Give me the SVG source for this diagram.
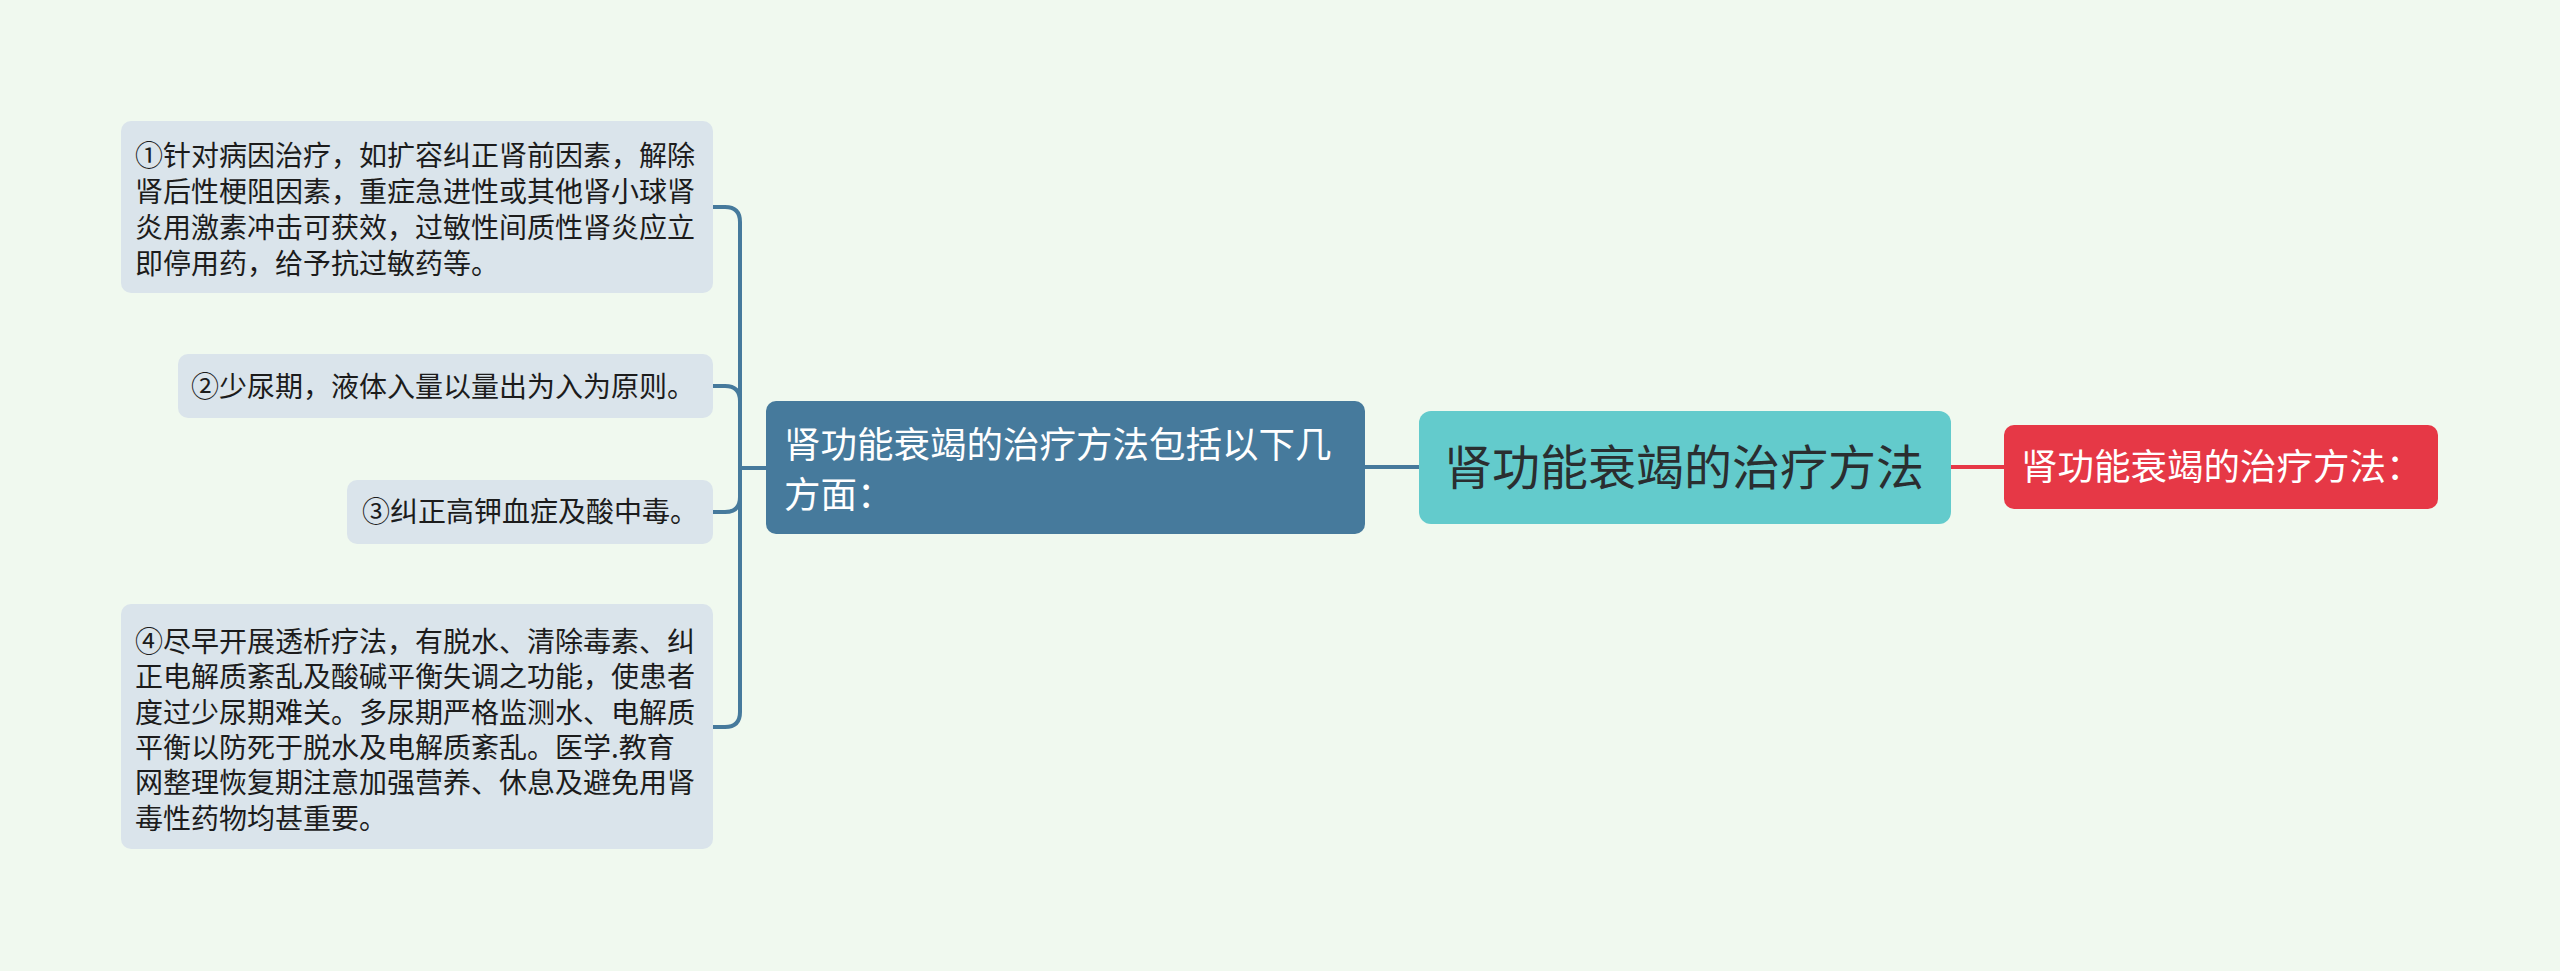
<svg xmlns="http://www.w3.org/2000/svg" width="2560" height="971" viewBox="0 0 2560 971">
<style>
.bg{fill:#f0f9ef}
.leaf{fill:#dae4eb}
.lt{font-family:"Noto Sans CJK SC","Noto Sans",sans-serif;font-size:28px;fill:#1c1c1c}
.main{fill:#467a9c}
.mt{font-family:"Noto Sans CJK SC","Noto Sans",sans-serif;font-size:36.5px;fill:#ffffff}
.center{fill:#63cbcc}
.ct{font-family:"Noto Sans CJK SC","Noto Sans",sans-serif;font-size:48px;fill:#2a2e30}
.red{fill:#e63846}
.rt{font-family:"Noto Sans CJK SC","Noto Sans",sans-serif;font-size:36.5px;fill:#ffffff}
.cb{fill:none;stroke:#467a9c;stroke-width:4}
.cr{fill:none;stroke:#e63846;stroke-width:4}
</style>
<rect class="bg" x="0" y="0" width="2560" height="971"/>
<g id="connectors">
<path class="cb" d="M740,467 V222 Q740,207 725,207 H713"/>
<path class="cb" d="M740,467 V401 Q740,386 725,386 H713"/>
<path class="cb" d="M740,467 V497 Q740,512 725,512 H713"/>
<path class="cb" d="M740,467 V712 Q740,727 725,727 H713"/>
<path class="cb" d="M740,468 H767"/>
<path class="cb" d="M1365,467 H1420"/>
<path class="cr" d="M1951,467 H2004"/>
</g>
<g id="center">
<rect class="center" x="1419" y="411" width="532" height="113" rx="12"/>
<text class="ct" x="1444" y="485">肾功能衰竭的治疗方法</text>
</g>
<g id="main">
<rect class="main" x="766" y="401" width="599" height="133" rx="10"/>
<text class="mt" x="784" y="458">肾功能衰竭的治疗方法包括以下几</text>
<text class="mt" x="784" y="508">方面：</text>
</g>
<g id="red">
<rect class="red" x="2004" y="425" width="434" height="84" rx="10"/>
<text class="rt" x="2021" y="480">肾功能衰竭的治疗方法：</text>
</g>
<g id="leaf1">
<rect class="leaf" x="121" y="121" width="592" height="172" rx="10"/>
<text class="lt" x="135" y="165.5">①针对病因治疗，如扩容纠正肾前因素，解除</text>
<text class="lt" x="135" y="201.5">肾后性梗阻因素，重症急进性或其他肾小球肾</text>
<text class="lt" x="135" y="237.5">炎用激素冲击可获效，过敏性间质性肾炎应立</text>
<text class="lt" x="135" y="273.5">即停用药，给予抗过敏药等。</text>
</g>
<g id="leaf2">
<rect class="leaf" x="178" y="354" width="535" height="64" rx="10"/>
<text class="lt" x="191" y="397">②少尿期，液体入量以量出为入为原则。</text>
</g>
<g id="leaf3">
<rect class="leaf" x="347" y="480" width="366" height="64" rx="10"/>
<text class="lt" x="362" y="522">③纠正高钾血症及酸中毒。</text>
</g>
<g id="leaf4">
<rect class="leaf" x="121" y="604" width="592" height="245" rx="10"/>
<text class="lt" x="135" y="652">④尽早开展透析疗法，有脱水、清除毒素、纠</text>
<text class="lt" x="135" y="687.3">正电解质紊乱及酸碱平衡失调之功能，使患者</text>
<text class="lt" x="135" y="722.6">度过少尿期难关。多尿期严格监测水、电解质</text>
<text class="lt" x="135" y="758">平衡以防死于脱水及电解质紊乱。医学.教育</text>
<text class="lt" x="135" y="793.2">网整理恢复期注意加强营养、休息及避免用肾</text>
<text class="lt" x="135" y="828.5">毒性药物均甚重要。</text>
</g>
</svg>
